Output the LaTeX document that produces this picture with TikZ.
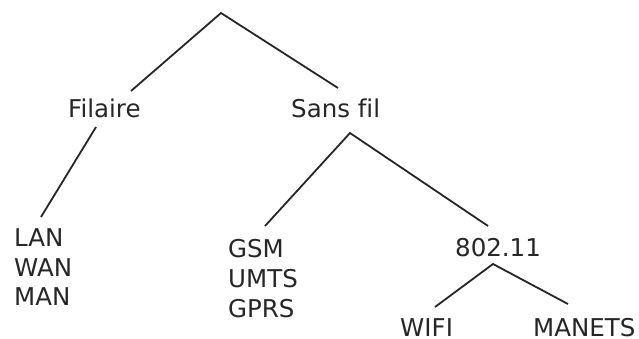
\documentclass[tikz,border=0pt]{standalone}
\usepackage{fontspec}
\setmainfont[Ligatures=NoCommon]{DejaVu Sans}
\begin{document}
\begin{tikzpicture}[x=1pt,y=-1pt,
  lbl/.style={anchor=base west,inner sep=0pt,font=\fontsize{24.5}{29}\selectfont,text=black!85},
  edge/.style={draw=black!85,line width=1.8pt}]
\useasboundingbox (0,0) rectangle (639,338);
\coordinate (root) at (221,13);
\node[lbl] (filaire) at (68,117) {Filaire};
\node[lbl] (sansfil) at (291,117) {Sans fil};
\node[lbl] (lan) at (14,246) {LAN};
\node[lbl] (wan) at (14,276) {WAN};
\node[lbl] (man) at (14,305) {MAN};
\node[lbl] (gsm) at (228,257) {GSM};
\node[lbl] (umts) at (228,287) {UMTS};
\node[lbl] (gprs) at (228,317) {GPRS};
\node[lbl] (w80211) at (455,256) {802.11};
\node[lbl] (wifi) at (400,336) {WIFI};
\node[lbl] (manets) at (533,336) {MANETS};
% connector end points
\coordinate (filtop) at (131,91);
\coordinate (sftop) at (338,88);
\coordinate (filbot) at (96,127);
\coordinate (lantop) at (41,217);
\coordinate (sfbot) at (350,133);
\coordinate (gsmtop) at (265,226);
\coordinate (wtop) at (488,226);
\coordinate (wbot) at (493,264);
\coordinate (wifitop) at (435,307);
\coordinate (manetstop) at (568,304);
\draw[edge] (filtop) -- (root) -- (sftop);
\draw[edge] (filbot) -- (lantop);
\draw[edge] (gsmtop) -- (sfbot) -- (wtop);
\draw[edge] (wifitop) -- (wbot) -- (manetstop);
\end{tikzpicture}
\end{document}
